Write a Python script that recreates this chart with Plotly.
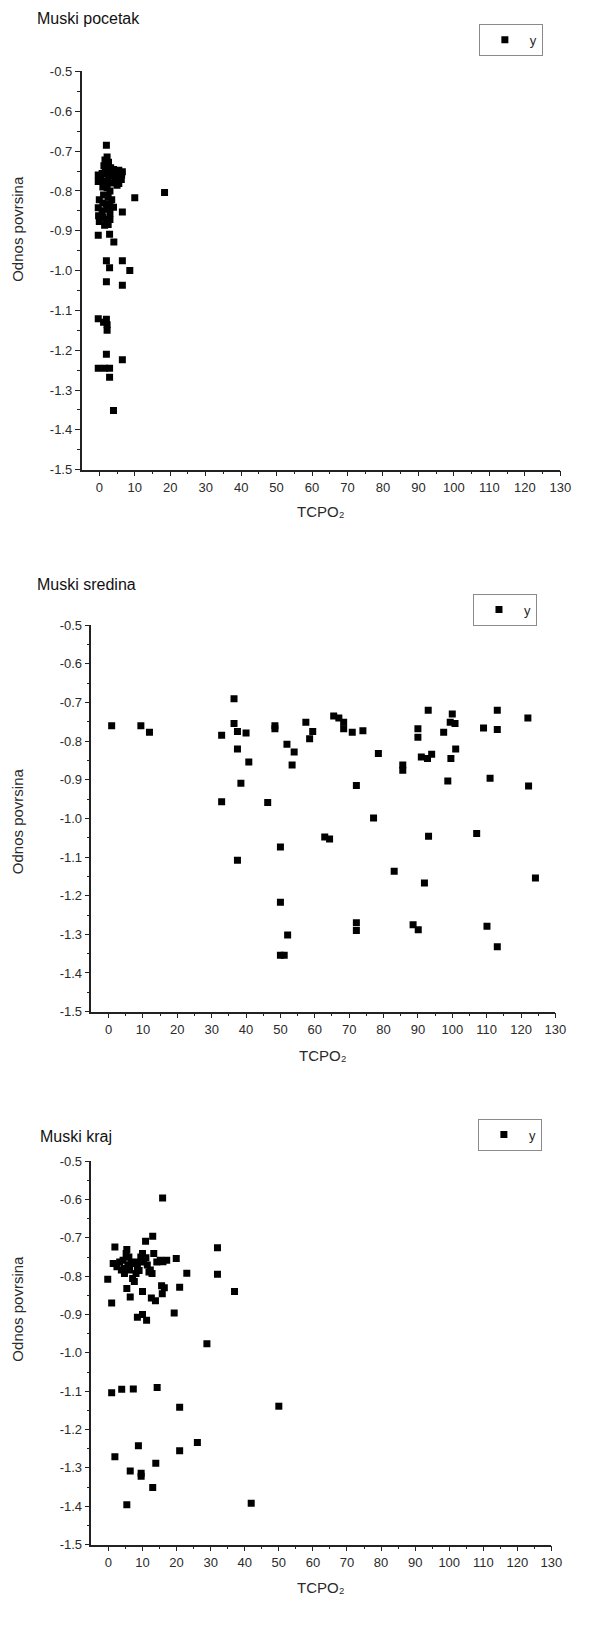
import plotly.graph_objects as go

# ---------------- data ----------------
panel_titles = ["Muski pocetak", "Muski sredina", "Muski kraj"]
x_title = "TCPO\u2082"
y_title = "Odnos povrsina"
series_name = "y"

x_ticks = list(range(0, 131, 10))
y_ticks = [-1.5, -1.4, -1.3, -1.2, -1.1, -1.0, -0.9, -0.8, -0.7, -0.6, -0.5]

p1_x = [2.0, 2.2, 1.6, 2.6, 1.3, 2.2, 3.2, 4.0, 5.5, 6.5, -0.3, 0.8, 1.7, 2.6, 3.5, 4.5, 5.6, 6.3,
        0.5, 1.5, 2.5, 3.2, 4.5, 5.5, 6.2, -0.3, 1.0, 2.2, 3.0, 5.0, 18.4, 10.0, 1.2, 2.5, 3.5,
        0.0, 1.0, 2.0, 3.0, 4.0, -0.3, 0.8, 2.2, 3.0, 6.5, -0.2, 1.0, 2.0, 3.0, 0.0, 1.5, 2.5,
        -0.3, 2.9, 4.1, 2.0, 6.5, 2.9, 8.6, 2.0, 6.5, -0.3, 2.0, 1.2, 2.2, 2.2, 2.0, 6.5,
        -0.3, 1.5, 2.9, 2.9, 4.0]
p1_y = [-0.685, -0.715, -0.722, -0.728, -0.737, -0.740, -0.742, -0.746, -0.748, -0.752, -0.760,
        -0.756, -0.751, -0.757, -0.762, -0.760, -0.766, -0.760, -0.770, -0.776, -0.772, -0.780,
        -0.776, -0.781, -0.771, -0.776, -0.790, -0.792, -0.800, -0.786, -0.804, -0.817, -0.810,
        -0.815, -0.822, -0.822, -0.830, -0.832, -0.836, -0.841, -0.842, -0.850, -0.846, -0.856,
        -0.853, -0.862, -0.866, -0.871, -0.872, -0.877, -0.886, -0.884, -0.911, -0.909, -0.928,
        -0.975, -0.975, -0.993, -1.000, -1.028, -1.037, -1.121, -1.122, -1.130, -1.136, -1.150,
        -1.210, -1.224, -1.245, -1.245, -1.245, -1.268, -1.351]

p2_x = [0.9, 9.4, 11.9, 32.9, 32.9, 36.5, 36.5, 37.5, 40.0, 37.5, 40.8, 38.5, 37.5,
        46.3, 48.4, 48.4, 50.0, 50.0, 52.1, 50.0, 51.1, 51.9, 54.0, 53.4, 57.4, 59.4, 58.5,
        62.9, 64.3, 65.5, 67.0, 68.4, 68.4, 70.9, 74.0, 72.1, 72.1, 72.1,
        77.1, 78.5, 83.1, 85.6, 85.6, 88.6, 90.1, 90.0, 90.0, 91.0, 92.8, 94.0, 91.9, 93.1, 93.0,
        97.5, 98.7, 99.4, 100.8, 100.0, 101.0, 99.6,
        107.1, 109.1, 110.1, 111.0, 113.1, 113.1, 113.1, 122.0, 122.2, 124.2]
p2_y = [-0.760, -0.760, -0.777, -0.785, -0.957, -0.690, -0.754, -0.775, -0.779, -0.820, -0.854,
        -0.909, -1.108, -0.959, -0.760, -0.768, -1.074, -1.217, -1.302, -1.354, -1.354, -0.808,
        -0.828, -0.862, -0.751, -0.775, -0.794, -1.048, -1.053, -0.735, -0.740, -0.751, -0.768,
        -0.777, -0.773, -0.915, -1.270, -1.290, -0.999, -0.832, -1.137, -0.862, -0.875, -1.275,
        -1.288, -0.768, -0.790, -0.841, -0.845, -0.834, -1.167, -1.046, -0.720, -0.777, -0.903,
        -0.751, -0.754, -0.730, -0.820, -0.845, -1.039, -0.766, -1.279, -0.896, -0.770, -0.720,
        -1.332, -0.740, -0.916, -1.154]

p3_x = [15.9, 13.0, 10.9, 1.9, 32.0, 5.4,
        5.2, 10.0, 13.3, 1.4, 3.3, 4.3, 4.7, 5.7, 6.6, 7.6, 8.5, 6.2, 3.8, 4.7, 7.1, 8.1, 10.4,
        11.4, 12.3, 14.2, 12.8, 11.9, 15.2, 17.1, 19.9, 8.5, 7.6, 2.5, 9.5, 6.0, 11.0, 16.0, 9.0,
        -0.2, 32.0, 23.0, 37.0, 20.9, 15.6, 16.4, 15.8, 0.95, 5.4, 6.4, 10.0, 12.6, 13.8, 19.3,
        8.5, 10.0, 11.2, 28.9, 0.95, 3.9, 7.3, 14.3, 20.9, 50.0,
        26.1, 20.9, 8.8, 1.9, 13.9, 6.4, 9.6, 9.6, 13.0, 5.4, 41.9]
p3_y = [-0.596, -0.696, -0.709, -0.724, -0.726, -0.730,
        -0.741, -0.741, -0.741, -0.767, -0.763, -0.758, -0.780, -0.771, -0.763, -0.767, -0.776,
        -0.784, -0.784, -0.793, -0.806, -0.793, -0.763, -0.771, -0.784, -0.763, -0.793, -0.789,
        -0.758, -0.758, -0.754, -0.763, -0.814, -0.775, -0.750, -0.750, -0.752, -0.762, -0.785,
        -0.808, -0.795, -0.792, -0.840, -0.829, -0.825, -0.830, -0.846, -0.870, -0.832, -0.854,
        -0.840, -0.857, -0.864, -0.896, -0.907, -0.900, -0.915, -0.976, -1.104, -1.095, -1.094,
        -1.090, -1.142, -1.139, -1.234, -1.255, -1.242, -1.271, -1.288, -1.308, -1.314, -1.322,
        -1.351, -1.396, -1.392]

# ---------------- layout geometry ----------------
# Page is 594 x 1625; the page body keeps its default 8px margin, so the figure
# itself starts at (8, 8).  All positions below are page pixels.
PAGE_W, PAGE_H = 594, 1625
OFF = 8
W, H = PAGE_W - 2 * OFF, PAGE_H - 2 * OFF
FONT = "Liberation Sans, Arial, Helvetica, sans-serif"
TXT = "#2a2a2a"


def fx(px):
    return (px - OFF) / W


def fy(py):
    return 1 - (py - OFF) / H


# (left, right, top, bottom) of each plot area
boxes = [(83, 571, 65, 467), (93, 566, 624, 1014), (93, 562, 1165, 1552)]
title_pos = [(36, 12), (36, 583), (39, 1140)]
legend_pos = [(488, 17), (482, 592), (487, 1122)]
xtitle_y = [509, 1058, 1595]
ytitle_y = [224, 822, 1314]

panels = [(p1_x, p1_y), (p2_x, p2_y), (p3_x, p3_y)]

fig = go.Figure()
annotations = []
layout = dict(
    width=W, height=H, margin=dict(l=0, r=0, t=0, b=0),
    paper_bgcolor="white", plot_bgcolor="white",
    font=dict(family=FONT, color=TXT),
)

for i, (xs, ys) in enumerate(panels):
    sfx = "" if i == 0 else str(i + 1)
    fig.add_trace(go.Scatter(
        x=xs, y=ys, mode="markers", name=series_name,
        marker=dict(symbol="square", size=7, color="black", line=dict(width=0)),
        xaxis="x" + sfx, yaxis="y" + sfx, legend="legend" + sfx, showlegend=True,
    ))
    l, r, t, b = boxes[i]
    common = dict(
        showline=True, linecolor="#222", linewidth=1.5, mirror=False,
        showgrid=False, zeroline=False, ticks="outside", ticklen=5, tickwidth=1.2,
        tickcolor="#222", tickfont=dict(family=FONT, size=13, color=TXT),
    )
    layout["xaxis" + sfx] = dict(
        common, domain=[fx(l), fx(r)], anchor="y" + sfx, range=[-5, 130],
        tickmode="array", tickvals=x_ticks,
        minor=dict(ticks="outside", ticklen=3, tickwidth=1.2, tickcolor="#222",
                   tickmode="array", tickvals=[v + 5 for v in x_ticks[:-1]]),
    )
    layout["yaxis" + sfx] = dict(
        common, domain=[fy(b), fy(t)], anchor="x" + sfx, range=[-1.5, -0.5],
        tickmode="array", tickvals=y_ticks, ticktext=[f"{v:.1f}" for v in y_ticks],
        minor=dict(ticks="outside", ticklen=3, tickwidth=1.2, tickcolor="#222",
                   tickmode="array", tickvals=[round(v + 0.05, 2) for v in y_ticks[:-1]]),
    )
    lx, ly = legend_pos[i]
    layout["legend" + sfx] = dict(
        x=fx(lx), y=fy(ly), xanchor="left", yanchor="top",
        bgcolor="white", bordercolor="#8a8a8a", borderwidth=1,
        font=dict(family=FONT, size=13, color=TXT), itemwidth=40,
    )
    tx, ty = title_pos[i]
    annotations.append(dict(
        text=panel_titles[i], x=fx(tx), y=fy(ty), xref="paper", yref="paper",
        xanchor="left", yanchor="middle", showarrow=False,
        font=dict(family=FONT, size=16, color="#111"),
    ))
    annotations.append(dict(
        text=x_title, x=fx((l + r) / 2), y=fy(xtitle_y[i]), xref="paper", yref="paper",
        xanchor="center", yanchor="middle", showarrow=False,
        font=dict(family=FONT, size=15, color=TXT),
    ))
    annotations.append(dict(
        text=y_title, x=fx(18), y=fy(ytitle_y[i]), xref="paper", yref="paper",
        xanchor="center", yanchor="middle", showarrow=False, textangle=-90,
        font=dict(family=FONT, size=15, color=TXT),
    ))

layout["annotations"] = annotations
fig.update_layout(**layout)
fig.write_html("out.html")
